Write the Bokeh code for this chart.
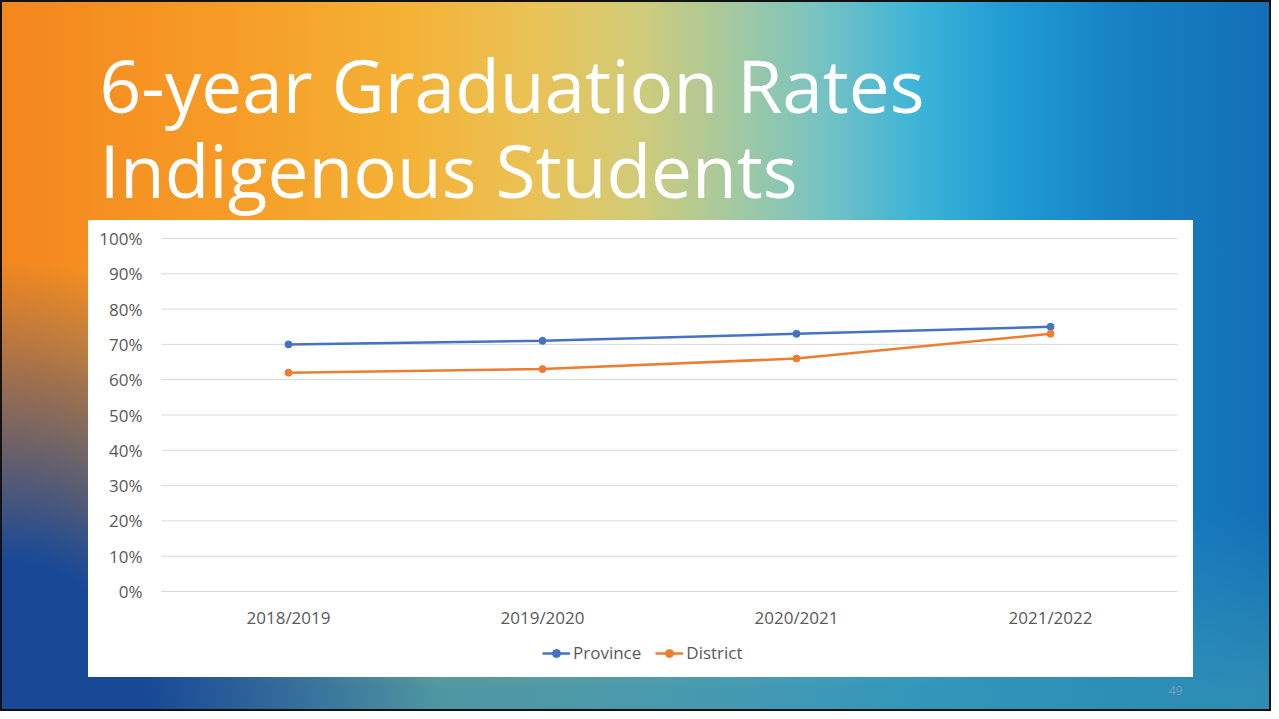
from bokeh.plotting import figure
from bokeh.models import Range1d, Legend, LegendItem, Label, FixedTicker
from bokeh.embed import file_html
from bokeh.resources import INLINE

# ---- data ----
years = ["2018/2019", "2019/2020", "2020/2021", "2021/2022"]
province = [70, 71, 73, 75]
district = [62, 63, 66, 73]
series_names = ["Province", "District"]
y_ticks = [0, 10, 20, 30, 40, 50, 60, 70, 80, 90, 100]
y_tick_labels = ["0%", "10%", "20%", "30%", "40%", "50%", "60%", "70%", "80%", "90%", "100%"]
title_lines = ["6-year Graduation Rates", "Indigenous Students"]
page_number = "49"

BLUE = "#4472C4"
ORANGE = "#ED7D31"
GREY = "#595959"
FONT = "Open Sans"

# ---- layout geometry (pixels inside the canvas) ----
W, H = 1271, 711
X0_PX, CAT_PX = 288, 254          # centre of first category, spacing between categories
Y0_PX, Y100_PX = 591, 238         # pixel rows of 0 % and 100 %
ppu = (Y0_PX - Y100_PX) / 100.0
x_start = -X0_PX / CAT_PX
y_start = -(H - Y0_PX) / ppu
xi = list(range(len(years)))

p = figure(width=W, height=H,
           x_range=Range1d(x_start, x_start + W / CAT_PX),
           y_range=Range1d(y_start, y_start + H / ppu),
           output_backend="svg", toolbar_location=None, min_border=0)
p.title = None

# slide background: white chart panel over a multi-stop gradient, thin dark frame
p.styles = {
    "margin": "0 -8px -8px 0",
    "box-shadow": "inset 0 0 0 2px #111111",
    "background": (
        "linear-gradient(#ffffff, #ffffff) 88px 220px / 1105px 457px no-repeat,"
        "radial-gradient(ellipse 440px 450px at 0% 100%, rgba(24,72,150,1) 0%, rgba(24,72,150,1) 33%, rgba(24,72,150,0) 100%),"
        "linear-gradient(to bottom, rgba(50,145,180,0) 72%, rgba(50,145,180,0.85) 97%),"
        "linear-gradient(to right, #F4861E 0%, #F69C26 18%, #F4B236 32%, #EAC256 42%, #D2CB78 50%, "
        "#A8C99C 57%, #7BC4C0 64%, #3EB4D8 72%, #1E9AD2 80%, #1782C4 88%, #136EB6 100%)"
    ),
}
p.border_fill_alpha = 0
p.background_fill_alpha = 0
p.outline_line_color = None
p.grid.visible = False

# horizontal gridlines across the category span
p.segment(x0=-0.5, x1=len(years) - 0.5, y0=y_ticks, y1=y_ticks, line_color="#D9D9D9", line_width=1)

l1 = p.line(xi, province, line_color=BLUE, line_width=2.5)
s1 = p.scatter(xi, province, size=7, fill_color=BLUE, line_color=BLUE)
l2 = p.line(xi, district, line_color=ORANGE, line_width=2.5)
s2 = p.scatter(xi, district, size=7, fill_color=ORANGE, line_color=ORANGE)

for ax in (p.xaxis[0], p.yaxis[0]):
    ax.axis_line_color = None
    ax.major_tick_line_color = None
    ax.minor_tick_line_color = None
    ax.major_tick_in = 0
    ax.major_tick_out = 0
    ax.major_label_text_font = FONT
    ax.major_label_text_font_size = "17px"
    ax.major_label_text_color = GREY
p.yaxis.ticker = FixedTicker(ticks=y_ticks)
p.yaxis.major_label_overrides = {t: s for t, s in zip(y_ticks, y_tick_labels)}
p.yaxis.major_label_standoff = 19
p.yaxis.fixed_location = -0.5
p.xaxis.ticker = FixedTicker(ticks=xi)
p.xaxis.major_label_overrides = {i: y for i, y in zip(xi, years)}
p.xaxis.major_label_standoff = 14
p.xaxis.fixed_location = 0

legend = Legend(items=[LegendItem(label=series_names[0], renderers=[l1, s1]),
                       LegendItem(label=series_names[1], renderers=[l2, s2])],
                orientation="horizontal", location=(542, H - 664),
                border_line_color=None, background_fill_alpha=0,
                padding=0, margin=0, spacing=14, glyph_width=28, label_standoff=3,
                label_text_font=FONT, label_text_font_size="17px", label_text_color=GREY)
p.add_layout(legend, "center")

# title: two lines (text_baseline middle; baseline sits ~0.39em lower)
for i, line in enumerate(title_lines):
    p.add_layout(Label(x=99, y=H - (112 + 85 * i - 28.5), x_units="screen", y_units="screen",
                       text=line, text_font=FONT, text_font_size="73px",
                       text_color="white", text_baseline="middle", text_align="left"))

p.add_layout(Label(x=1175, y=H - 690, x_units="screen", y_units="screen", text=page_number,
                   text_font=FONT, text_font_size="12px", text_color="#7A9FC4",
                   text_align="center", text_baseline="middle"))

open("out.html", "w").write(file_html(p, INLINE))
